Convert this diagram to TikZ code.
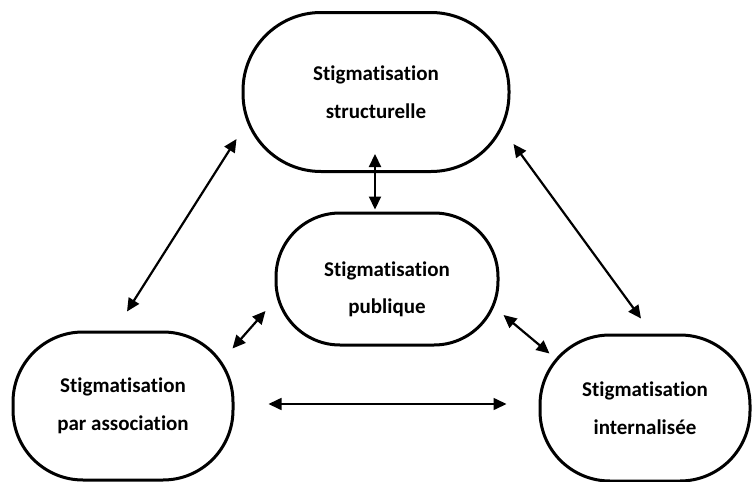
\documentclass[tikz,border=0pt]{standalone}
\usepackage{fontspec}
\setmainfont[Ligatures={NoCommon,NoRare}]{Carlito}
\usetikzlibrary{arrows.meta,calc}
\begin{document}
\begin{tikzpicture}[x=1pt,y=-1pt,
{Triangle[length=13pt,width=12pt]}-{Triangle[length=13pt,width=12pt]},
line width=2.2pt,
box/.style ={draw,line width=3pt,rounded corners=70pt,align=center,
 font=\fontsize{21}{38}\selectfont\bfseries},
txt/.style ={align=center,font=\fontsize{21}{37}\selectfont\bfseries}]

\useasboundingbox (0,0) rectangle (753,482);

\node[box,minimum width=266pt,minimum height=159pt,rounded corners=78pt] (struct) at (376,92) {Stigmatisation\\structurelle};
\node[box,minimum width=222pt,minimum height=132pt,rounded corners=64pt] (publ) at (387,279) {};
\node[txt] (publtxt) at (387,289) {Stigmatisation\\publique};
\node[box,minimum width=220pt,minimum height=148pt] (assoc) at (123,406) {Stigmatisation\\par association};
\node[box,minimum width=210pt,minimum height=146pt] (intern) at (645,408) {Stigmatisation\\internalisée};

%
\draw ($(struct.south)+(-1,-19)$) -- ($(publ.north)+(-12,-2)$);
\draw ($(struct.south west)+(-5,-34)$) -- ($(assoc.north)+(4,-19)$);
\draw ($(struct.south east)+(3,-29)$) -- ($(intern.north)+(-4,-15)$);
\draw ($(publ.west)+(-9,32)$) -- ($(assoc.north east)+(-2,18)$);
\draw ($(publ.east)+(4,36)$) -- ($(intern.north west)+(11,20)$);
\draw[line width=1.6pt] ($(assoc.east)+(34,-2)$) -- ($(intern.west)+(-32,-4)$);

\end{tikzpicture}
\end{document}
